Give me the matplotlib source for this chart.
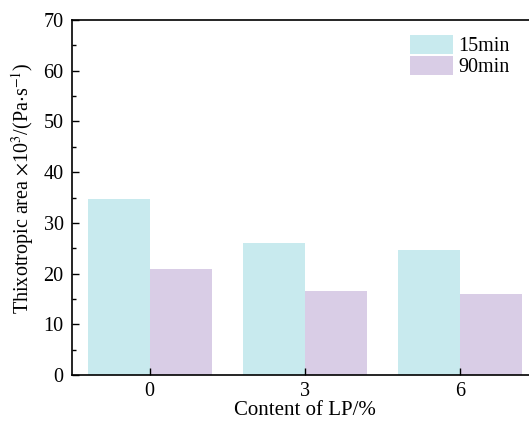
import matplotlib
matplotlib.use("Agg")
import matplotlib.pyplot as plt
import numpy as np
from matplotlib.ticker import MultipleLocator

categories = ["0", "3", "6"]
series_names = ["15min", "90min"]
values_15min = [34.8, 26.0, 24.6]
values_90min = [20.9, 16.6, 16.0]
colors = ["#c8eaee", "#d9cde6"]

plt.rcParams["font.family"] = ["Liberation Serif", "DejaVu Serif"]
plt.rcParams["mathtext.fontset"] = "stix"

fig = plt.figure(figsize=(5.29, 4.21), dpi=100)
ax = fig.add_axes([72 / 529, 46 / 421, 466 / 529, 355 / 421])

x = np.arange(len(categories))
w = 0.4
ax.bar(x - w / 2, values_15min, width=w, color=colors[0], label=series_names[0])
ax.bar(x + w / 2, values_90min, width=w, color=colors[1], label=series_names[1])

ax.set_xlim(-0.5, 2.5)
ax.set_ylim(0, 70)
ax.set_xticks(x)
ax.set_xticklabels(categories)
ax.yaxis.set_major_locator(MultipleLocator(10))
ax.yaxis.set_minor_locator(MultipleLocator(5))
ax.tick_params(axis="both", which="both", direction="in", labelsize=14.5, width=1)
ax.tick_params(axis="both", which="major", length=5)
ax.tick_params(axis="y", which="minor", length=3)
ax.tick_params(axis="x", which="major", pad=5)
ax.tick_params(axis="y", which="major", pad=6)
for s in ax.spines.values():
    s.set_linewidth(1.2)

ax.set_xlabel("Content of LP/%", fontsize=15, labelpad=0)
ax.set_ylabel(r"Thixotropic area $\times$10$^{3}$/(Pa$\cdot$s$^{-1}$)", fontsize=14.5)
ax.yaxis.set_label_coords(-0.077, 0.525)

ax.legend(loc="upper left", bbox_to_anchor=(0.725, 0.958), frameon=False, fontsize=14.5,
          handlelength=2.15, handleheight=1.05, labelspacing=0.0, handletextpad=0.25,
          borderaxespad=0, borderpad=0)

fig.savefig("out.png", dpi=100)
